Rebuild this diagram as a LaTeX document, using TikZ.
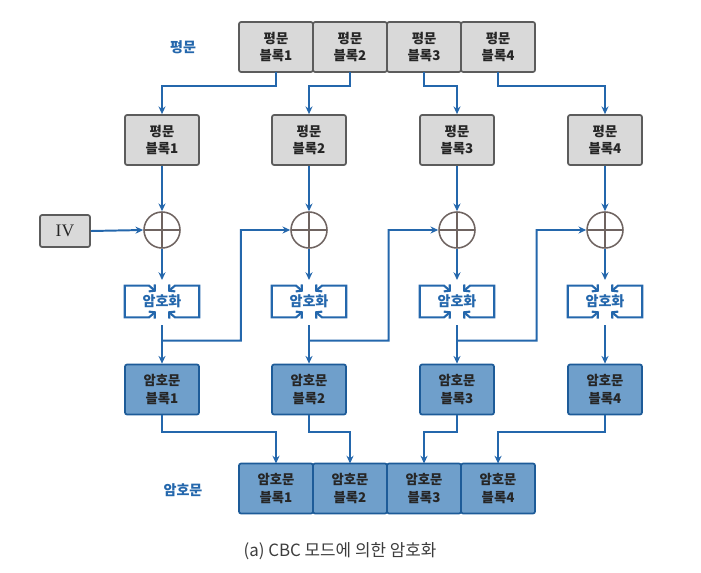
\documentclass[tikz,border=0pt]{standalone}
\usepackage{fontspec}
\setmainfont{Noto Sans CJK KR}
\newfontfamily\ivfont{Liberation Serif}
\usetikzlibrary{arrows.meta, positioning, calc}

\definecolor{flowblue}{HTML}{2467AC}
\definecolor{plainfill}{HTML}{D9D9D9}
\definecolor{plaindraw}{HTML}{5C5C5C}
\definecolor{cipherfill}{HTML}{6F9FCB}
\definecolor{cipherdraw}{HTML}{1D5B98}
\definecolor{xordraw}{HTML}{6F6461}
\definecolor{captiongray}{HTML}{3C3C3C}

\tikzset{
  plainblk/.style={draw=plaindraw, fill=plainfill, line width=1.2pt, rounded corners=1.5pt,
    minimum width=1.85cm, minimum height=1.25cm, align=center, inner sep=0pt,
    font=\fontsize{9.5}{12.5}\selectfont\bfseries, text=black!85},
  cipherblk/.style={plainblk, draw=cipherdraw, fill=cipherfill},
  rowblk/.style={outer sep=0pt},
  xor/.style={circle, draw=xordraw, line width=1.1pt, minimum size=0.9cm, inner sep=0pt,
    path picture={\draw[xordraw, line width=1.1pt]
      (path picture bounding box.north) -- (path picture bounding box.south)
      (path picture bounding box.west) -- (path picture bounding box.east);}},
  encblk/.style={minimum width=1.85cm, minimum height=0.78cm, inner sep=0pt,
    text=flowblue, font=\fontsize{10}{12}\selectfont\bfseries},
  flow/.style={draw=flowblue, line width=1.4pt, -{Stealth[length=5.5pt,width=5pt]}},
  frameline/.style={draw=flowblue, line width=1.5pt,
    {Straight Barb[length=3pt,width=6.5pt]}-{Straight Barb[length=3pt,width=6.5pt]}},
  rowlabel/.style={text=flowblue, font=\fontsize{10}{12}\selectfont\bfseries}
}

% open frame round an encryption step
\newcommand{\encframe}[1]{%
  \draw[frameline] ($(#1.north)+(-6,6)$) -- ($(#1.north)+(-13,0)$) -- (#1.north west)
    -- (#1.south west) -- ($(#1.south)+(-13,0)$) -- ($(#1.south)+(-6,-6)$);
  \draw[frameline] ($(#1.north)+(6,6)$) -- ($(#1.north)+(13,0)$) -- (#1.north east)
    -- (#1.south east) -- ($(#1.south)+(13,0)$) -- ($(#1.south)+(6,-6)$);
}

\begin{document}
\begin{tikzpicture}[x=0.025cm, y=-0.025cm]
  \useasboundingbox (0,0) rectangle (701,572);

  \node[plainblk, rowblk] (top1) at (276,47) {평문\\블록1};
  \node[plainblk, rowblk, right=0pt of top1] (top2) {평문\\블록2};
  \node[plainblk, rowblk, right=0pt of top2] (top3) {평문\\블록3};
  \node[plainblk, rowblk, right=0pt of top3] (top4) {평문\\블록4};
  \node[rowlabel] (plainlabel) at (183,47) {평문};

  \foreach \i/\x in {1/162, 2/309, 3/457, 4/605} {
    \node[plainblk] (pb\i) at (\x,140) {평문\\블록\i};
    \node[xor] (xor\i) at (\x,230) {};
    \node[encblk] (enc\i) at (\x,301.5) {암호화};
    \encframe{enc\i}
    \node[cipherblk] (cb\i) at (\x,389.5) {암호문\\블록\i};
  }

  \node[plainblk, minimum width=1.25cm, minimum height=0.8cm,
    font=\ivfont\fontsize{12.5}{12.5}\selectfont] (iv) at (65,231) {IV};

  \node[cipherblk, rowblk] (bot1) at (276,488.5) {암호문\\블록1};
  \node[cipherblk, rowblk, right=0pt of bot1] (bot2) {암호문\\블록2};
  \node[cipherblk, rowblk, right=0pt of bot2] (bot3) {암호문\\블록3};
  \node[cipherblk, rowblk, right=0pt of bot3] (bot4) {암호문\\블록4};
  \node[rowlabel] (cipherlabel) at (183,490) {암호문};

  \foreach \i in {1,...,4} {
    \draw[flow] (top\i.south) -- ++(0,14) -| (pb\i.north);
    \draw[flow] (pb\i.south) -- (xor\i.north);
    \draw[flow, shorten >=4pt] (xor\i.south) -- (enc\i.north);
    \draw[flow, shorten <=5.5pt] (enc\i.south) -- (cb\i.north);
    \draw[flow] (cb\i.south) -- ++(0,17) -| (bot\i.north);
  }

  \draw[flow] (iv.east) -- (xor1.west);
  \foreach \i/\j in {1/2, 2/3, 3/4} {
    \coordinate (tap\i) at ($(enc\i.south)!.5!(cb\i.north)$);
    \draw[flow] (tap\i) -| ($(xor\i.east)!.55!(xor\j.west)$) -- (xor\j.west);
  }

  \node[text=captiongray, font=\fontsize{12}{14}\selectfont] (caption) at (340,551)
    {(a) CBC 모드에 의한 암호화};
\end{tikzpicture}
\end{document}
